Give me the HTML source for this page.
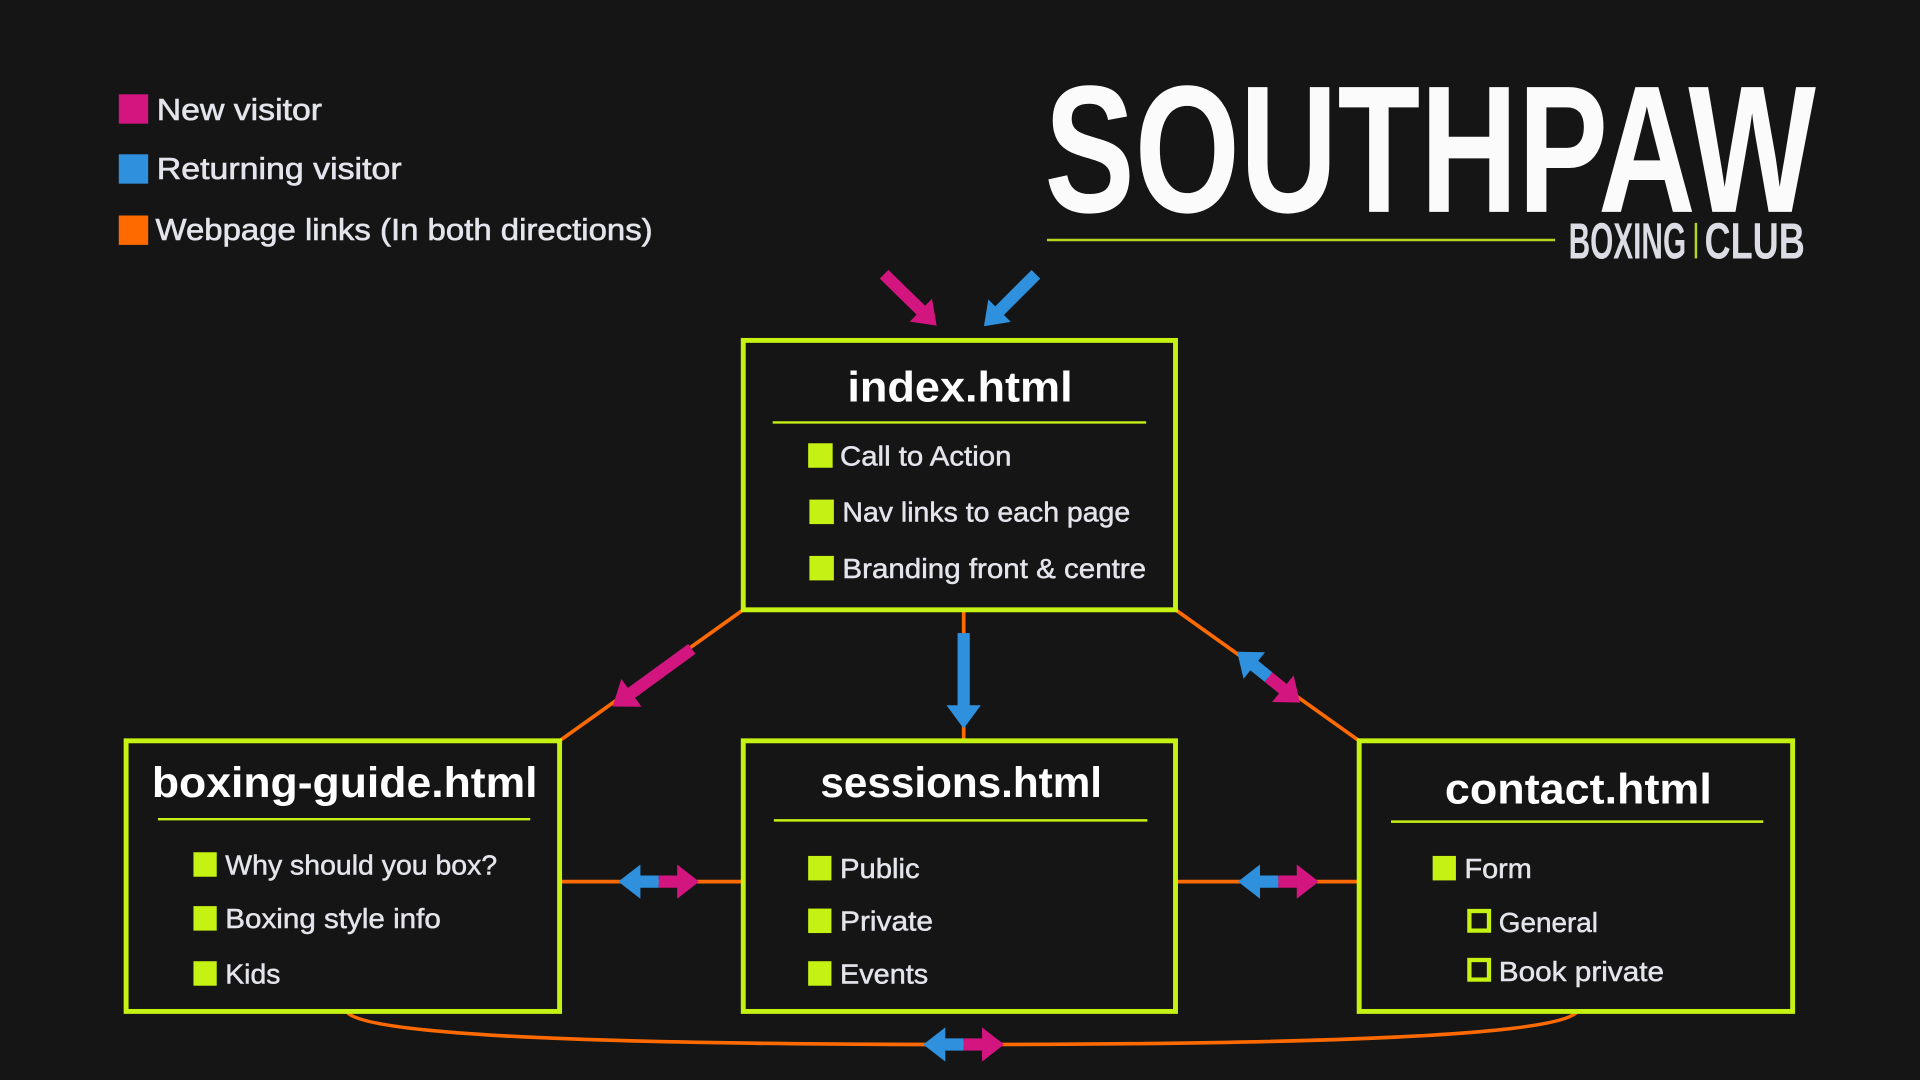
<!DOCTYPE html>
<html><head><meta charset="utf-8"><style>
html,body{margin:0;padding:0;background:#151515;}
svg{display:block}
text{font-family:"Liberation Sans",sans-serif;fill:#e4e4ec}
.it{font-size:23px;stroke:#e4e4ec;stroke-width:0.4}
.tt{font-size:35px;font-weight:bold;fill:#fff}
.lg{font-size:25px;stroke:#e4e4ec;stroke-width:0.5}
</style></head><body>
<svg width="1920" height="1080" viewBox="0 0 1568 882" xmlns="http://www.w3.org/2000/svg">
<rect width="1568" height="882" fill="#151515"/>
<!-- legend -->
<rect x="97" y="77" width="24" height="24" fill="#d2157f"/>
<text class="lg" x="128" y="98" textLength="135" lengthAdjust="spacingAndGlyphs">New visitor</text>
<rect x="97" y="126" width="24" height="24" fill="#2f90dd"/>
<text class="lg" x="128" y="146" textLength="200" lengthAdjust="spacingAndGlyphs">Returning visitor</text>
<rect x="97" y="176" width="24" height="24" fill="#ff6a00"/>
<text class="lg" x="127" y="196" textLength="406" lengthAdjust="spacingAndGlyphs">Webpage links (In both directions)</text>
<!-- logo -->
<g transform="translate(853,173) scale(1,2)">
<text x="0" y="0" style="font-size:74px;font-weight:bold;fill:#fbfbfb" textLength="630" lengthAdjust="spacingAndGlyphs">SOUTHPAW</text>
</g>
<line x1="855" y1="196" x2="1270" y2="196" stroke="#b5d620" stroke-width="2"/>
<g transform="translate(1281,211) scale(1,2)">
<text x="0" y="0" style="font-size:21px;font-weight:bold;fill:#dcdce4" textLength="96" lengthAdjust="spacingAndGlyphs">BOXING</text>
<text x="111" y="0" style="font-size:21px;font-weight:bold;fill:#dcdce4" textLength="82" lengthAdjust="spacingAndGlyphs">CLUB</text>
</g>
<line x1="1385" y1="182" x2="1385" y2="211" stroke="#b5d620" stroke-width="2"/>
<!-- orange connectors -->
<g stroke="#ff6a00" stroke-width="3" fill="none">
<line x1="607" y1="498" x2="457" y2="605"/>
<line x1="960" y1="498" x2="1110" y2="605"/>
<line x1="787" y1="498" x2="787" y2="605"/>
<line x1="457" y1="720" x2="607" y2="720"/>
<line x1="960" y1="720" x2="1110" y2="720"/>
<path d="M283 826 Q 300 853 787 853 Q 1270 853 1288 826"/>
</g>
<!-- boxes -->
<g fill="#151515" stroke="#c6f213" stroke-width="4">
<rect x="607" y="278" width="353" height="220"/>
<rect x="103" y="605" width="354" height="221"/>
<rect x="607" y="605" width="353" height="221"/>
<rect x="1110" y="605" width="354" height="221"/>
</g>
<g stroke="#c6f213" stroke-width="2">
<line x1="631" y1="345" x2="936" y2="345"/>
<line x1="129" y1="669" x2="433" y2="669"/>
<line x1="632" y1="670" x2="937" y2="670"/>
<line x1="1136" y1="671" x2="1440" y2="671"/>
</g>
<text class="tt" x="692" y="328" textLength="184" lengthAdjust="spacingAndGlyphs">index.html</text>
<text class="tt" x="124" y="651" textLength="315" lengthAdjust="spacingAndGlyphs">boxing-guide.html</text>
<text class="tt" x="670" y="651" textLength="230" lengthAdjust="spacingAndGlyphs">sessions.html</text>
<text class="tt" x="1180" y="656" textLength="218" lengthAdjust="spacingAndGlyphs">contact.html</text>
<!-- items -->
<g fill="#c6f213">
<rect x="660" y="362" width="20" height="20"/><rect x="661" y="408" width="20" height="20"/><rect x="661" y="454" width="20" height="20"/>
<rect x="158" y="696" width="19" height="20"/><rect x="158" y="740" width="19" height="20"/><rect x="158" y="785" width="19" height="20"/>
<rect x="660" y="699" width="19" height="20"/><rect x="660" y="742" width="19" height="20"/><rect x="660" y="785" width="19" height="20"/>
<rect x="1170" y="699" width="19" height="20"/>
</g>
<g fill="none" stroke="#c6f213" stroke-width="3.5">
<rect x="1200" y="744" width="16" height="16"/><rect x="1200" y="784" width="16" height="16"/>
</g>
<text class="it" x="686" y="380" textLength="140" lengthAdjust="spacingAndGlyphs">Call to Action</text>
<text class="it" x="688" y="426" textLength="235" lengthAdjust="spacingAndGlyphs">Nav links to each page</text>
<text class="it" x="688" y="472" textLength="248" lengthAdjust="spacingAndGlyphs">Branding front &amp; centre</text>
<text class="it" x="184" y="714" textLength="222" lengthAdjust="spacingAndGlyphs">Why should you box?</text>
<text class="it" x="184" y="758" textLength="176" lengthAdjust="spacingAndGlyphs">Boxing style info</text>
<text class="it" x="184" y="803" textLength="45" lengthAdjust="spacingAndGlyphs">Kids</text>
<text class="it" x="686" y="717" textLength="65" lengthAdjust="spacingAndGlyphs">Public</text>
<text class="it" x="686" y="760" textLength="76" lengthAdjust="spacingAndGlyphs">Private</text>
<text class="it" x="686" y="803" textLength="72" lengthAdjust="spacingAndGlyphs">Events</text>
<text class="it" x="1196" y="717" textLength="55" lengthAdjust="spacingAndGlyphs">Form</text>
<text class="it" x="1224" y="761" textLength="81" lengthAdjust="spacingAndGlyphs">General</text>
<text class="it" x="1224" y="801" textLength="135" lengthAdjust="spacingAndGlyphs">Book private</text>
<!-- single arrows -->
<g transform="translate(722,224) rotate(44.3)" fill="#d2157f"><rect x="0" y="-5" width="43" height="10"/><polygon points="60,0 42,-13 42,13"/></g>
<g transform="translate(846,224) rotate(135)" fill="#2f90dd"><rect x="0" y="-5" width="43" height="10"/><polygon points="60,0 42,-13 42,13"/></g>
<g transform="translate(565,530) rotate(144)" fill="#d2157f"><rect x="0" y="-5" width="62" height="10"/><polygon points="80,0 61,-14 61,14"/></g>
<g transform="translate(787,517) rotate(90)" fill="#2f90dd"><rect x="0" y="-5" width="60" height="10"/><polygon points="78,0 59,-14 59,14"/></g>
<!-- double arrows -->
<g transform="translate(538,720)">
<polygon points="-33,0 -15,-14 -15,14" fill="#2f90dd"/><rect x="-16" y="-5" width="16" height="10" fill="#2f90dd"/>
<rect x="0" y="-5" width="16" height="10" fill="#d2157f"/><polygon points="33,0 15,-14 15,14" fill="#d2157f"/>
</g>
<g transform="translate(1044,720)">
<polygon points="-33,0 -15,-14 -15,14" fill="#2f90dd"/><rect x="-16" y="-5" width="16" height="10" fill="#2f90dd"/>
<rect x="0" y="-5" width="16" height="10" fill="#d2157f"/><polygon points="33,0 15,-14 15,14" fill="#d2157f"/>
</g>
<g transform="translate(787,853)">
<polygon points="-33,0 -15,-14 -15,14" fill="#2f90dd"/><rect x="-16" y="-5" width="16" height="10" fill="#2f90dd"/>
<rect x="0" y="-5" width="16" height="10" fill="#d2157f"/><polygon points="33,0 15,-14 15,14" fill="#d2157f"/>
</g>
<g transform="translate(1036,553) rotate(39)">
<polygon points="-33,0 -15,-14 -15,14" fill="#2f90dd"/><rect x="-16" y="-5" width="16" height="10" fill="#2f90dd"/>
<rect x="0" y="-5" width="16" height="10" fill="#d2157f"/><polygon points="33,0 15,-14 15,14" fill="#d2157f"/>
</g>
</svg>
</body></html>
